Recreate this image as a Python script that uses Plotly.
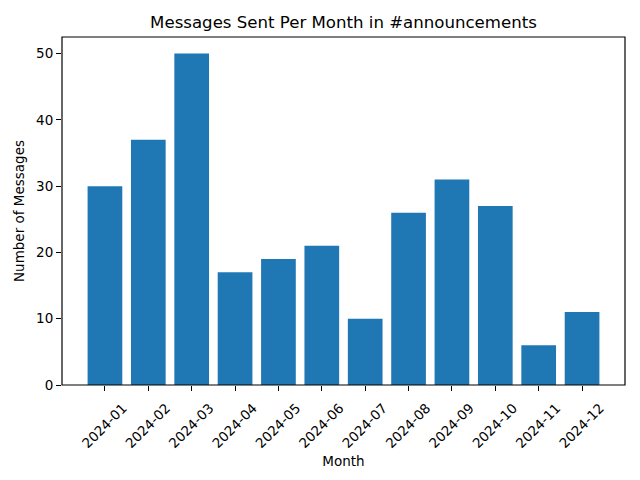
import plotly.graph_objects as go

months = ["2024-01", "2024-02", "2024-03", "2024-04", "2024-05", "2024-06",
          "2024-07", "2024-08", "2024-09", "2024-10", "2024-11", "2024-12"]
messages = [30, 37, 50, 17, 19, 21, 10, 26, 31, 27, 6, 11]

FONT = "DejaVu Sans"

fig = go.Figure(go.Bar(x=months, y=messages, marker_color="#1f77b4",
                       marker_line_width=0, width=0.8))

axis_common = dict(showline=False, ticks="outside", ticklen=5, tickcolor="black", tickwidth=1,
                   showgrid=False, zeroline=False, automargin=False,
                   tickfont=dict(family=FONT, size=13.5, color="black"))

fig.update_layout(
    width=640, height=480,
    margin=dict(l=62, r=15, t=37, b=95),
    paper_bgcolor="white", plot_bgcolor="white",
    title=dict(text="Messages Sent Per Month in #announcements", x=0.5, xref="paper", xanchor="center",
               y=1 - 22/480, yanchor="middle",
               font=dict(family=FONT, size=16.6, color="black")),
    xaxis=dict(**axis_common, type="category", range=[-0.99, 11.99], tickangle=-45,
               ticklabelshift=18, ticklabelstandoff=4,
               title=dict(text="Month", font=dict(family=FONT, size=13.5, color="black"), standoff=6)),
    yaxis=dict(**axis_common, range=[0, 52.5], tickvals=[0, 10, 20, 30, 40, 50],
               title=dict(text="Number of Messages", font=dict(family=FONT, size=13.5, color="black"), standoff=8)),
    showlegend=False,
    shapes=[dict(type="rect", xref="paper", yref="paper", x0=0, x1=1, y0=0, y1=1,
                 line=dict(color="black", width=1.2), fillcolor="rgba(0,0,0,0)", layer="above")],
)

fig.write_html("out.html", config={"displayModeBar": False})
with open("out.html", "r", encoding="utf-8") as f:
    html = f.read()
html = html.replace("<head>", "<head><style>html,body{margin:0;padding:0;overflow:hidden;}</style>", 1)
with open("out.html", "w", encoding="utf-8") as f:
    f.write(html)
